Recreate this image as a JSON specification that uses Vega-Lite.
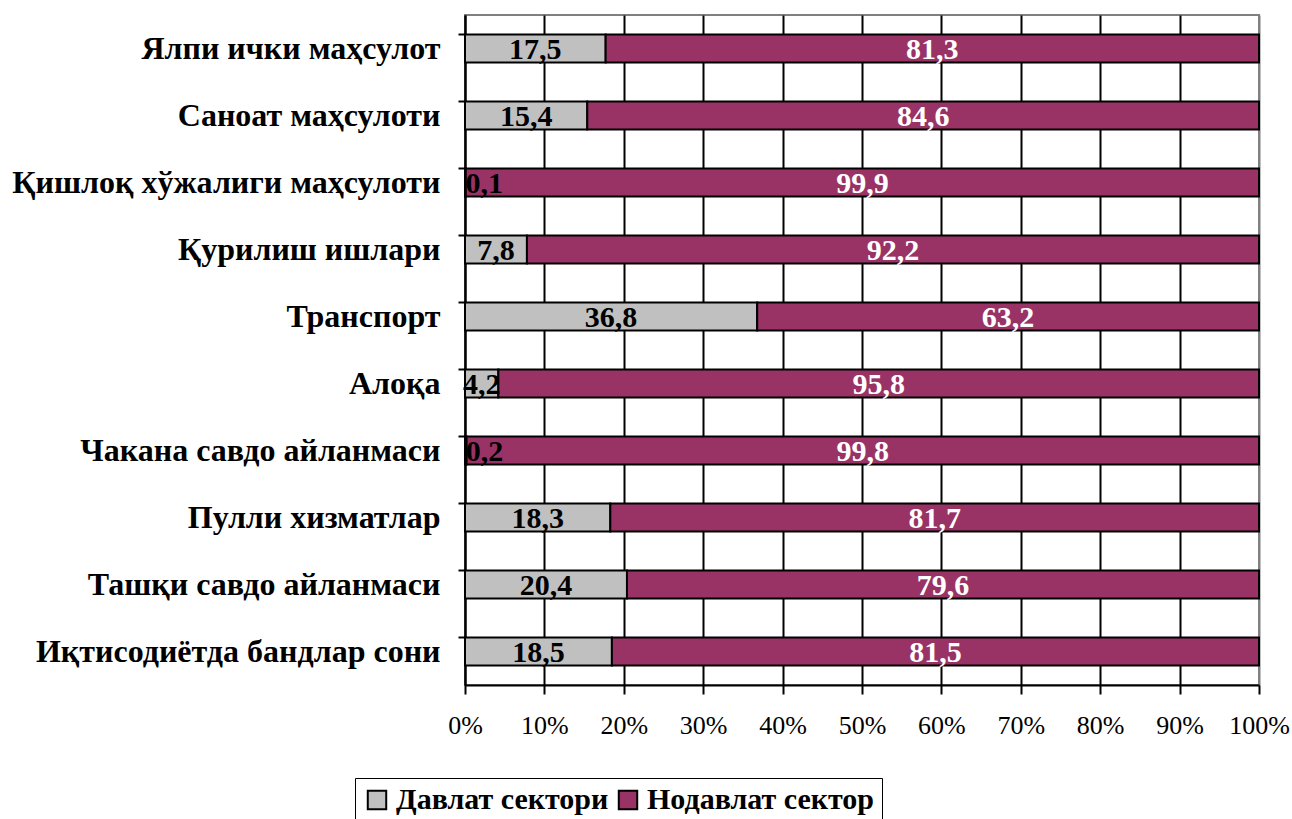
{
  "$schema": "https://vega.github.io/schema/vega-lite/v6.json",
  "width": 794,
  "height": 670,
  "autosize": {"type": "none"},
  "padding": {"left": 465, "top": 15, "right": 33, "bottom": 134},
  "background": "white",
  "config": {
    "view": {"stroke": "#808080", "strokeWidth": 2},
    "font": "Liberation Serif"
  },
  "data": {
    "values": [
      {"cat": "Ялпи ички маҳсулот", "sector": "Давлат сектори", "value": 17.5},
      {"cat": "Ялпи ички маҳсулот", "sector": "Нодавлат сектор", "value": 81.3},
      {"cat": "Саноат маҳсулоти", "sector": "Давлат сектори", "value": 15.4},
      {"cat": "Саноат маҳсулоти", "sector": "Нодавлат сектор", "value": 84.6},
      {"cat": "Қишлоқ хўжалиги маҳсулоти", "sector": "Давлат сектори", "value": 0.1},
      {"cat": "Қишлоқ хўжалиги маҳсулоти", "sector": "Нодавлат сектор", "value": 99.9},
      {"cat": "Қурилиш ишлари", "sector": "Давлат сектори", "value": 7.8},
      {"cat": "Қурилиш ишлари", "sector": "Нодавлат сектор", "value": 92.2},
      {"cat": "Транспорт", "sector": "Давлат сектори", "value": 36.8},
      {"cat": "Транспорт", "sector": "Нодавлат сектор", "value": 63.2},
      {"cat": "Алоқа", "sector": "Давлат сектори", "value": 4.2},
      {"cat": "Алоқа", "sector": "Нодавлат сектор", "value": 95.8},
      {"cat": "Чакана савдо айланмаси", "sector": "Давлат сектори", "value": 0.2},
      {"cat": "Чакана савдо айланмаси", "sector": "Нодавлат сектор", "value": 99.8},
      {"cat": "Пулли хизматлар", "sector": "Давлат сектори", "value": 18.3},
      {"cat": "Пулли хизматлар", "sector": "Нодавлат сектор", "value": 81.7},
      {"cat": "Ташқи савдо айланмаси", "sector": "Давлат сектори", "value": 20.4},
      {"cat": "Ташқи савдо айланмаси", "sector": "Нодавлат сектор", "value": 79.6},
      {"cat": "Иқтисодиётда бандлар сони", "sector": "Давлат сектори", "value": 18.5},
      {"cat": "Иқтисодиётда бандлар сони", "sector": "Нодавлат сектор", "value": 81.5}
    ]
  },
  "transform": [
    {"calculate": "datum.sector === 'Давлат сектори' ? 0 : 1", "as": "ord"},
    {"stack": "value", "groupby": ["cat"], "sort": [{"field": "ord", "order": "ascending"}], "offset": "normalize", "as": ["x0", "x1"]},
    {"calculate": "(datum.x0 + datum.x1) / 2", "as": "mid"},
    {"calculate": "replace(format(datum.value, '.1f'), '.', ',')", "as": "label"}
  ],
  "encoding": {
    "y": {
      "field": "cat",
      "type": "nominal",
      "sort": null,
      "title": null,
      "scale": {"paddingInner": 0.58, "paddingOuter": 0.29},
      "axis": {
        "bandPosition": 0,
        "labelFont": "Liberation Serif",
        "labelFontWeight": "bold",
        "labelFontSize": 32,
        "labelColor": "black",
        "labelPadding": 18,
        "labelLimit": 600,
        "tickSize": 7,
        "tickColor": "black",
        "tickWidth": 2,
        "domainColor": "black",
        "domainWidth": 2
      }
    }
  },
  "layer": [
    {
      "mark": {"type": "bar", "stroke": "black", "strokeWidth": 2},
      "encoding": {
        "x": {
          "field": "x0",
          "type": "quantitative",
          "title": null,
          "scale": {"domain": [0, 1], "nice": false},
          "axis": {
            "values": [0, 0.1, 0.2, 0.3, 0.4, 0.5, 0.6, 0.7, 0.8, 0.9, 1],
            "format": ".0%",
            "labelFont": "Liberation Serif",
            "labelFontSize": 26,
            "labelColor": "black",
            "labelPadding": 18,
            "labelFlush": false,
            "labelOverlap": false,
            "tickSize": 9,
            "tickColor": "black",
            "tickWidth": 2,
            "domainColor": "black",
            "domainWidth": 2,
            "grid": true,
            "gridColor": {"condition": {"test": "datum.value === 1", "value": "#808080"}, "value": "black"},
            "gridWidth": 2,
            "gridOpacity": 1
          }
        },
        "x2": {"field": "x1"},
        "color": {
          "field": "sector",
          "type": "nominal",
          "scale": {"domain": ["Давлат сектори", "Нодавлат сектор"], "range": ["#C0C0C0", "#993366"]},
          "legend": {
            "title": null,
            "orient": "none",
            "direction": "horizontal",
            "legendX": -110,
            "legendY": 763,
            "symbolType": "square",
            "symbolSize": 340,
            "symbolStrokeColor": "black",
            "symbolStrokeWidth": 2,
            "symbolOpacity": 1,
            "labelFont": "Liberation Serif",
            "labelFontWeight": "bold",
            "labelFontSize": 30,
            "labelColor": "black",
            "labelOffset": 4,
            "labelLimit": 600,
            "columnPadding": 4,
            "strokeColor": "black",
            "fillColor": "white",
            "padding": 7
          }
        }
      }
    },
    {
      "mark": {
        "type": "text",
        "font": "Liberation Serif",
        "fontWeight": "bold",
        "fontSize": 30,
        "baseline": "middle",
        "align": {"expr": "datum.value < 1 ? 'left' : 'center'"},
        "dy": 1
      },
      "encoding": {
        "x": {"field": "mid", "type": "quantitative"},
        "text": {"field": "label", "type": "nominal"},
        "color": {
          "condition": {"test": "datum.sector === 'Давлат сектори'", "value": "black"},
          "value": "white"
        }
      }
    }
  ]
}
